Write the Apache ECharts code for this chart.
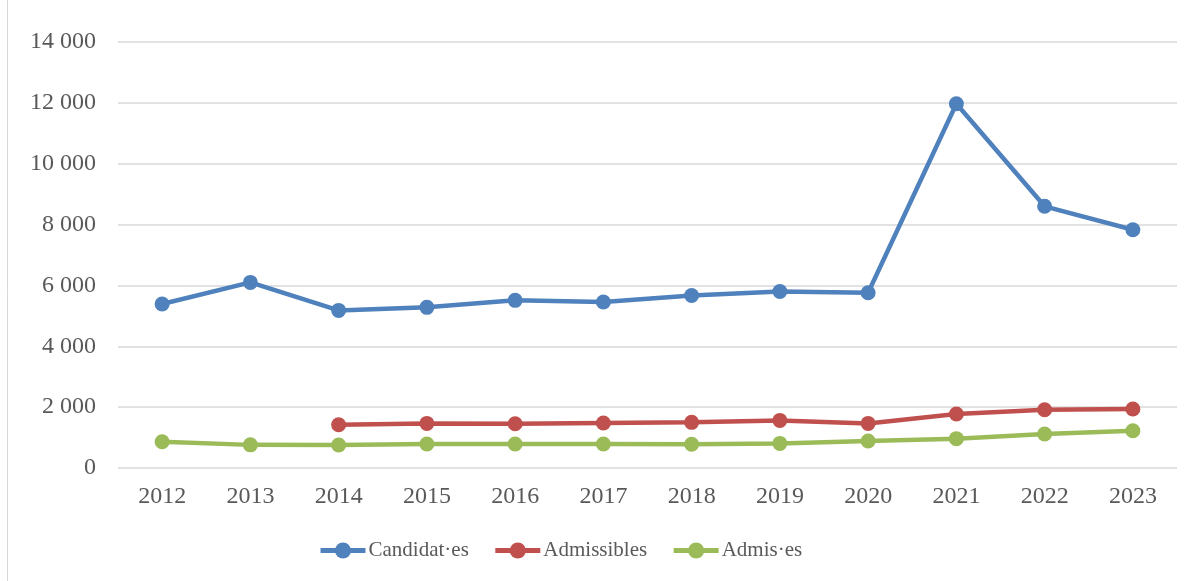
<!DOCTYPE html>
<html>
<head>
<meta charset="utf-8">
<script src="https://cdn.jsdelivr.net/npm/echarts@6/dist/echarts.min.js"></script>
<style>
  html, body { margin: 0; padding: 0; background: #fff; }
  #main { width: 1195px; height: 581px; }
</style>
</head>
<body>
<div id="main"></div>
<script>
var years = ['2012','2013','2014','2015','2016','2017','2018','2019','2020','2021','2022','2023'];
var candidats = [5390, 6100, 5180, 5280, 5510, 5455, 5670, 5800, 5760, 11970, 8600, 7830];
var admissibles = [null, null, 1420, 1465, 1455, 1480, 1500, 1565, 1465, 1775, 1915, 1940];
var admis = [865, 760, 756, 790, 790, 790, 780, 808, 887, 965, 1117, 1225];
var seriesNames = ['Candidat·es', 'Admissibles', 'Admis·es'];
var colors = ['#4F81BD', '#C0504D', '#9BBB59'];

var font = 'Liberation Serif';
var myChart = echarts.init(document.getElementById('main'));

function lineSeries(i, data) {
	return {
		name: seriesNames[i],
		type: 'line',
		data: data,
		color: colors[i],
		symbol: 'circle',
		symbolSize: 15,
		lineStyle: { width: 4.5, color: colors[i] },
		itemStyle: { color: colors[i] },
		connectNulls: false
	};
}

var option = {
	animation: false,
	textStyle: { fontFamily: font },
	graphic: [{
		type: 'line',
		shape: { x1: 7.5, y1: 0, x2: 7.5, y2: 581 },
		style: { stroke: '#d9d9d9', lineWidth: 1 }
	}],
	grid: { left: 118, right: 18, top: 42, bottom: 113, containLabel: false },
	legend: {
		left: 313,
		top: 535,
		itemWidth: 45,
		itemHeight: 20,
		itemGap: 24,
		lineStyle: { width: 5 },
		textStyle: { fontFamily: font, fontSize: 21, color: '#595959', padding: [0, 0, 0, -2] },
		data: seriesNames
	},
	xAxis: {
		type: 'category',
		data: years,
		boundaryGap: true,
		axisLine: { show: false },
		axisTick: { show: false },
		axisLabel: { fontFamily: font, fontSize: 24, color: '#595959', margin: 17 }
	},
	yAxis: {
		type: 'value',
		min: 0,
		max: 14000,
		interval: 2000,
		axisLine: { show: false },
		axisTick: { show: false },
		splitLine: { lineStyle: { color: '#d9d9d9', width: 1.5 } },
		axisLabel: {
			fontFamily: font, fontSize: 24, color: '#595959', margin: 22,
			formatter: function (v) { return String(v).replace(/\B(?=(\d{3})+(?!\d))/g, ' '); }
		}
	},
	series: [
		lineSeries(0, candidats),
		lineSeries(1, admissibles),
		lineSeries(2, admis)
	]
};
myChart.setOption(option);
</script>
</body>
</html>
